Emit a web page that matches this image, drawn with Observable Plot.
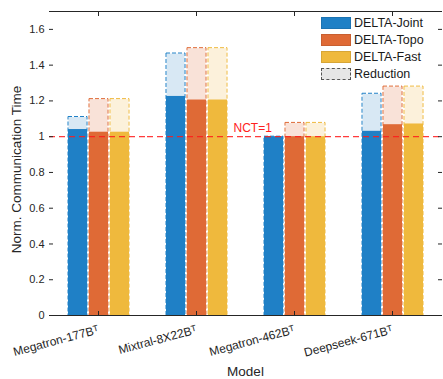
<!DOCTYPE html>
<html><head><meta charset="utf-8">
<script src="https://cdn.jsdelivr.net/npm/d3@7"></script>
<script src="https://cdn.jsdelivr.net/npm/@observablehq/plot@0.6"></script>
<style>
body{margin:0;background:#fff;font-family:"Liberation Sans",Arial,sans-serif;}
#wrap{position:relative;width:443px;height:379px;}
#legend{position:absolute;left:321px;top:15px;font-size:12.5px;color:#1a1a1a;}
.row{display:flex;align-items:center;height:16.8px;}
.sw{width:30px;height:12px;margin-right:3px;box-sizing:border-box;}
</style></head><body><div id="wrap"></div>
<script>
const models = ["Megatron-177Bᵀ","Mixtral-8X22Bᵀ","Megatron-462Bᵀ","Deepseek-671Bᵀ"];
const series = ["DELTA-Joint","DELTA-Topo","DELTA-Fast"];
const jointValues = [1.04, 1.225, 1.00, 1.03];
const jointBefore = [1.11, 1.465, 1.00, 1.24];
const topoValues  = [1.025, 1.205, 1.00, 1.067];
const topoBefore  = [1.21, 1.495, 1.077, 1.28];
const fastValues  = [1.025, 1.205, 1.00, 1.071];
const fastBefore  = [1.21, 1.495, 1.077, 1.28];
const yTicks = [0, 0.2, 0.4, 0.6, 0.8, 1, 1.2, 1.4, 1.6];
const nctValue = 1;
const nctLabel = "NCT=1";
const reductionLabel = "Reduction";

const colors = {"DELTA-Joint":"#1f80c6","DELTA-Topo":"#df6a36","DELTA-Fast":"#efb93d"};
const lightColors = {"DELTA-Joint":"#d8e8f4","DELTA-Topo":"#f9e2d8","DELTA-Fast":"#fcf1db"};

const values = [jointValues, topoValues, fastValues];
const befores = [jointBefore, topoBefore, fastBefore];
const rows = models.flatMap((m, i) => series.map((s, j) => ({model: m, series: s, value: values[j][i], before: befores[j][i]})));

const textColor = "#262626";
const plot = Plot.plot({
  width: 443, height: 379,
  marginLeft: 48, marginRight: 2, marginTop: 11, marginBottom: 64,
  style: {fontFamily: '"Liberation Sans", Arial, sans-serif', fontSize: "11px", color: textColor, background: "white"},
  fx: {domain: models, padding: 0, label: null},
  x: {domain: series, paddingInner: 0.1, paddingOuter: 0.78, axis: null},
  y: {domain: [0, 1.7], label: null},
  color: {type: "identity"},
  marks: [
    Plot.barY(rows, {fx: "model", x: "series", y1: 0, y2: "before", fill: d => lightColors[d.series], stroke: "white", strokeWidth: 1}),
    Plot.barY(rows, {fx: "model", x: "series", y1: 0, y2: "value", fill: d => colors[d.series]}),
    Plot.barY(rows, {fx: "model", x: "series", y1: 0, y2: "before", fill: "none", stroke: d => colors[d.series], strokeWidth: 1, strokeDasharray: "4,2"}),
    Plot.ruleY([nctValue], {stroke: "#ff1a1a", strokeWidth: 1.2, strokeDasharray: "6,4", strokeOpacity: 0.85}),
    Plot.text([nctLabel], {fx: () => models[2], y: () => nctValue, text: d => d, frameAnchor: "left", textAnchor: "start", dx: -12, dy: -9, fill: "#ff2020", fontSize: 12}),
    Plot.ruleY([0], {stroke: textColor}),
    Plot.frame({anchor: "top", stroke: textColor}),
    Plot.axisY({anchor: "left", ticks: yTicks, tickSize: -4, tickPadding: 9, tickFormat: d => String(+d.toFixed(1)), label: "Norm. Communication Time", labelAnchor: "center", labelOffset: 38, labelArrow: "none", line: true, stroke: textColor, fill: textColor}),
    Plot.axisY({anchor: "right", ticks: yTicks, tickSize: -4, tickFormat: () => "", label: null, line: true, stroke: textColor}),
    Plot.axisFx({anchor: "top", tickSize: -4, tickFormat: () => "", label: null, stroke: textColor}),
    Plot.axisFx({anchor: "bottom", tickSize: -4, tickPadding: 18, tickRotate: -15, fontSize: 12, label: "Model", labelAnchor: "center", labelOffset: 60, labelArrow: "none", stroke: textColor, fill: textColor})
  ]
});
d3.select(plot).selectAll('[aria-label="y-axis label"] text, [aria-label="fx-axis label"] text').attr("font-size", 13.5);
d3.select(plot).selectAll('[aria-label="y-axis label"] text').attr("dx", -6);
const wrap = document.getElementById("wrap");
wrap.appendChild(plot);

const legend = document.createElement("div");
legend.id = "legend";
const entries = series.map(s => ({label: s, fill: colors[s], border: "1px solid " + d3.color(colors[s]).darker(0.3)}));
entries.push({label: reductionLabel, fill: "#e6e6e6", border: "1px dashed #555"});
for (const e of entries) {
  const r = document.createElement("div"); r.className = "row";
  const sw = document.createElement("div"); sw.className = "sw";
  sw.style.background = e.fill; sw.style.border = e.border;
  const t = document.createElement("span"); t.textContent = e.label;
  r.appendChild(sw); r.appendChild(t); legend.appendChild(r);
}
wrap.appendChild(legend);
</script></body></html>
